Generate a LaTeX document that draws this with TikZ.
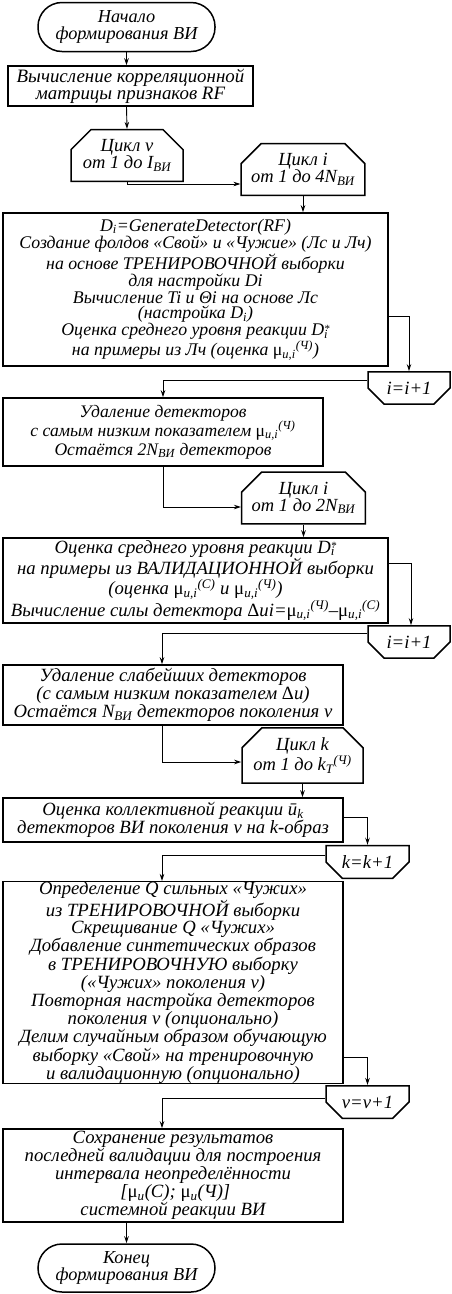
\documentclass[tikz,border=0pt]{standalone}
\usepackage{fontspec}
\setmainfont{Liberation Serif}
\usetikzlibrary{arrows.meta,shapes.misc}
\newcommand{\mui}[1]{{\upshape μ}\textsubscript{u,i}\textsuperscript{(#1)}}
\newcommand{\Dst}{D\rlap{\textsubscript{i}}\raisebox{0.4ex}{\fontsize{11}{11}\selectfont *}}
\begin{document}
\begin{tikzpicture}[x=1pt,y=-1pt,font=\itshape\fontsize{18.7}{16}\selectfont,
	blk/.style={draw,line width=1.5pt,align=center,inner sep=0pt},
	term/.style={blk,rounded corners=24pt,font=\itshape\fontsize{18.3}{16.5}\selectfont},
	loopbeg/.style={blk,chamfered rectangle,chamfered rectangle corners={north west,north east},chamfered rectangle xsep=10pt,chamfered rectangle ysep=10pt,font=\itshape\fontsize{18.5}{17}\selectfont},
	loopend/.style={blk,chamfered rectangle,chamfered rectangle corners={south west,south east},chamfered rectangle xsep=10pt,chamfered rectangle ysep=10pt},
	arr/.style={line width=0.9pt,-{Stealth[length=7pt,width=4.5pt]}}]
	\useasboundingbox (0,0) rectangle (452,1294);
	
	%start and first blocks
	\node[term,minimum width=177pt,minimum height=49pt] (start) at (126.5,27) {Начало\\формирования ВИ}; %start
	\node[blk,minimum width=245pt,minimum height=40pt,font=\itshape\fontsize{18.9}{17}\selectfont] (corr) at (130.5,86) {Вычисление корреляционной\\матрицы признаков RF}; %RF
	\node[loopbeg,minimum width=112pt,minimum height=41pt] (lv) at (127,155.5) {Цикл v\\от 1 до I\textsubscript{ВИ}}; %loop v
	\node[loopbeg,minimum width=122pt,minimum height=49pt] (li1) at (303,169.5) {Цикл i\\от 1 до 4N\textsubscript{ВИ}}; %loop i (1)
	
	%loop i (1)
	\node[blk,minimum width=385pt,minimum height=153pt,font=\itshape\fontsize{17.8}{15.4}\selectfont] (gen) at (195.5,289.5) {D\textsubscript{i}=GenerateDetector(RF)\\
		Создание фолдов «Свой» и «Чужие» (Лс и Лч)\\на основе ТРЕНИРОВОЧНОЙ выборки\\для настройки Di\\
		Вычисление Ti и Θi на основе Лс\\(настройка D\textsubscript{i})\\
		Оценка среднего уровня реакции \Dst\\на примеры из Лч (оценка \mui{Ч})}; %detector
	\node[loopend,minimum width=82pt,minimum height=30pt] (ie1) at (409,388) {i=i+1}; %end i (1)
	\node[blk,minimum width=320pt,minimum height=68pt,font=\itshape\fontsize{17.6}{19}\selectfont] (del) at (163,432) {Удаление детекторов\\с самым низким показателем \mui{Ч}\\Остаётся 2N\textsubscript{ВИ} детекторов}; %delete
	
	%loop i (2)
	\node[loopbeg,minimum width=121pt,minimum height=50pt] (li2) at (303.5,498) {Цикл i\\от 1 до 2N\textsubscript{ВИ}}; %loop i (2)
	\node[blk,minimum width=385pt,minimum height=85pt,font=\itshape\fontsize{18.7}{16.3}\selectfont] (val) at (195.5,580.5) {Оценка среднего уровня реакции \Dst\\на примеры из ВАЛИДАЦИОННОЙ выборки\\(оценка \mui{C} и \mui{Ч})\\
		Вычисление силы детектора {\upshape Δ}ui=\mui{Ч}–\mui{C}}; %validation
	\node[loopend,minimum width=82pt,minimum height=30pt] (ie2) at (409,642) {i=i+1}; %end i (2)
	\node[blk,minimum width=340pt,minimum height=60pt,font=\itshape\fontsize{18.7}{15.5}\selectfont] (weak) at (173,695) {Удаление слабейших детекторов\\(с самым низким показателем {\upshape Δ}u)\\Остаётся N\textsubscript{ВИ} детекторов поколения v}; %weak
	
	%loop k
	\node[loopbeg,minimum width=121pt,minimum height=49pt] (lk) at (302.5,755.5) {Цикл k\\от 1 до k\textsubscript{T}\textsuperscript{(Ч)}}; %loop k
	\node[blk,minimum width=340pt,minimum height=44pt] (coll) at (173,820) {Оценка коллективной реакции ū\textsubscript{k}\\детекторов ВИ поколения v на k-образ}; %collective
	\node[loopend,minimum width=83pt,minimum height=30pt] (ke) at (367.5,862) {k=k+1}; %end k
	\node[blk,minimum width=340pt,minimum height=197pt,font=\itshape\fontsize{18.7}{16.2}\selectfont] (gen2) at (173,982.5) {Определение Q сильных «Чужих»\\из ТРЕНИРОВОЧНОЙ выборки\\Скрещивание Q «Чужих»\\
		Добавление синтетических образов\\в ТРЕНИРОВОЧНУЮ выборку\\(«Чужих» поколения v)\\
		Повторная настройка детекторов\\поколения v (опционально)\\
		Делим случайным образом обучающую\\выборку «Свой» на тренировочную\\и валидационную (опционально)}; %new generation
	\node[loopend,minimum width=83pt,minimum height=30pt] (ve) at (367.5,1102) {v=v+1}; %end v
	
	%final blocks
	\node[blk,minimum width=340pt,minimum height=93pt,font=\itshape\fontsize{18.7}{15.5}\selectfont] (save) at (173,1175.5) {Сохранение результатов\\последней валидации для построения\\интервала неопределённости\\{}
		[{\upshape μ}\textsubscript{u}(C); {\upshape μ}\textsubscript{u}(Ч)]\\системной реакции ВИ}; %save
	\node[term,minimum width=177pt,minimum height=48pt] (stop) at (126.5,1268) {Конец\\формирования ВИ}; %end
	
	%arrows
	\draw[arr] (start) -- (start.south |- corr.north);
	\draw[arr] (start.south |- corr.south) -- (lv.north);
	\draw[arr] (lv.south) |- ([yshift=-14.5pt]li1.west);
	\draw[arr] (li1.south) -- (li1.south |- gen.north);
	\draw[arr] ([yshift=-26.5pt]gen.east) -| (ie1.north);
	\draw[arr] ([yshift=8pt]ie1.west) -| (del.north);
	\draw[arr] (del.south) |- ([yshift=-9pt]li2.west);
	\draw[arr] (li2.south) -- (li2.south |- val.north);
	\draw[arr] ([yshift=17.5pt]val.east) -| ([xshift=2pt]ie2.north);
	\draw[arr] ([yshift=9pt]ie2.west) -| ([xshift=-11pt]weak.north);
	\draw[arr] ([xshift=-11pt]weak.south) |- ([yshift=-6.5pt]lk.west);
	\draw[arr] (lk.south) -- (lk.south |- coll.north);
	\draw[arr] ([yshift=3pt]coll.east) -| (ke.north);
	\draw[arr] ([yshift=7pt]ke.west) -| ([xshift=-11pt]gen2.north);
	\draw[arr] ([yshift=-74.5pt]gen2.east) -| (ve.north);
	\draw[arr] ([yshift=4pt]ve.west) -| ([xshift=-11pt]save.north);
	\draw[arr] (stop.north |- save.south) -- (stop);
\end{tikzpicture}
\end{document}
